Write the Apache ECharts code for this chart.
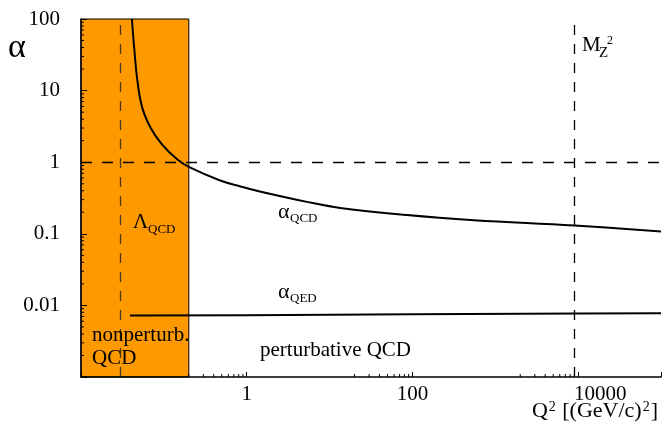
<!DOCTYPE html>
<html>
<head>
<meta charset="utf-8">
<script src="https://cdn.jsdelivr.net/npm/echarts@6/dist/echarts.min.js"></script>
<style>html,body{margin:0;padding:0;background:#fff}#c{width:664px;height:430px}</style>
</head>
<body>
<div id="c"></div>
<script>
// ---- data ----
const qcdQ2    = [0.0412, 0.0439, 0.0481, 0.0553, 0.070, 0.0966, 0.147, 0.2, 0.47, 0.823, 1.44, 5.34, 13.4, 86, 553, 8950, 100000];
const qcdAlpha = [100, 39, 13.3, 5.6, 2.96, 1.73, 1.08, 0.86, 0.56, 0.461, 0.39, 0.279, 0.23, 0.1825, 0.155, 0.1305, 0.108];
const qedQ2    = [0.039, 1, 100, 10000, 100000];
const qedAlpha = [0.0072, 0.0073, 0.0075, 0.0077, 0.0078];
const lambdaQ2 = 0.0314;     // Λ_QCD² dashed line
const mz2      = 8900;       // M_Z² dashed line
const nonpertRange = [0.01, 0.2];
const xTickLabels = ['1', '100', '10000'];
const yTickLabels = ['100', '10', '1', '0.1', '0.01'];
const xMinorTicks = [0.2,0.3,0.4,0.5,0.6,0.7,0.8,0.9, 20,30,40,50,60,70,80,90, 2000,3000,4000,5000,6000,7000,8000,9000];
const yMinorTicks = [0.002,0.003,0.004,0.005,0.006,0.007,0.008,0.009,
                     0.02,0.03,0.04,0.05,0.06,0.07,0.08,0.09,
                     0.2,0.3,0.4,0.5,0.6,0.7,0.8,0.9,
                     2,3,4,5,6,7,8,9, 20,30,40,50,60,70,80,90];

const SERIF = '"Liberation Serif", "Times New Roman", serif';
function pick(list) {
  return function (v) {
    for (const s of list) {
      if (Math.abs(Math.log10(v) - Math.log10(parseFloat(s))) < 1e-6) {
        return s === '10000' ? '{shift|' + s + '}' : s;
      }
    }
    return '';
  };
}

const chart = echarts.init(document.getElementById('c'), null, {renderer: 'canvas'});
const option = {
  animation: false,
  backgroundColor: '#fff',
  grid: {left: 81, right: 2, top: 19, bottom: 53},
  xAxis: {
    type: 'log', logBase: 10, min: 0.01, max: 100000, interval: 2, z: 10,
    axisLine: {lineStyle: {color: '#000', width: 1.5}},
    axisTick: {inside: true, length: 5, lineStyle: {color: '#000', width: 1}},
    axisLabel: {
      formatter: pick(xTickLabels), color: '#000', fontFamily: SERIF, fontSize: 21, margin: 7,
      rich: {shift: {fontFamily: SERIF, fontSize: 21, color: '#000', padding: [0, 0, 0, 44]}}
    },
    splitLine: {show: false}
  },
  yAxis: {
    type: 'log', logBase: 10, min: 0.001, max: 100, interval: 1, z: 10,
    axisLine: {show: true, lineStyle: {color: '#000', width: 1.5}},
    axisTick: {show: true, inside: true, length: 6, lineStyle: {color: '#000', width: 1}},
    axisLabel: {formatter: pick(yTickLabels), color: '#000', fontFamily: SERIF, fontSize: 21, margin: 21},
    splitLine: {show: false}
  },
  series: [
    {
      name: 'alphaQCD', type: 'line', z: 4,
      data: qcdQ2.map((q, i) => [q, qcdAlpha[i]]),
      showSymbol: false, smooth: 0.4,
      lineStyle: {color: '#000', width: 2},
      markArea: {
        silent: true,
        itemStyle: {color: '#FF9900', borderColor: '#000', borderWidth: 1},
        data: [[{xAxis: nonpertRange[0], yAxis: 0.001}, {xAxis: nonpertRange[1], yAxis: 100}]]
      },
      markLine: {
        silent: true, symbol: 'none', label: {show: false},
        data: [
          {xAxis: lambdaQ2, lineStyle: {color: '#4a3a20', width: 1.3, type: [10, 9]}},
          {xAxis: mz2, lineStyle: {color: '#000', width: 1.3, type: [10, 9]}},
          {yAxis: 1, lineStyle: {color: '#000', width: 1.3, type: [11, 10]}}
        ]
      }
    },
    {
      name: 'alphaQED', type: 'line', z: 4,
      data: qedQ2.map((q, i) => [q, qedAlpha[i]]),
      showSymbol: false, smooth: false,
      lineStyle: {color: '#000', width: 2}
    },
    {
      name: 'xMinor', type: 'custom', z: 11, silent: true,
      data: xMinorTicks.map(v => [v, 0.001]),
      renderItem: function (params, api) {
        const p = api.coord([api.value(0), 0.001]);
        return {type: 'line', shape: {x1: p[0], y1: p[1], x2: p[0], y2: p[1] - 3}, style: {stroke: '#000', lineWidth: 1}};
      }
    },
    {
      name: 'yMinor', type: 'custom', z: 11, silent: true,
      data: yMinorTicks.map(v => [0.01, v]),
      renderItem: function (params, api) {
        const p = api.coord([0.01, api.value(1)]);
        return {type: 'line', shape: {x1: p[0], y1: p[1], x2: p[0] + 3, y2: p[1]}, style: {stroke: '#000', lineWidth: 1}};
      }
    }
  ],
  graphic: [
    {type: 'text', z: 20, style: {x: 8, y: 48, text: 'α', font: '34px ' + SERIF, fill: '#000', textVerticalAlign: 'middle'}},
    {type: 'text', z: 20, style: {x: 133, y: 222, text: 'Λ', font: '21px ' + SERIF, fill: '#000', textVerticalAlign: 'middle'}},
    {type: 'text', z: 20, style: {x: 148, y: 230, text: 'QCD', font: '13px ' + SERIF, fill: '#000', textVerticalAlign: 'middle'}},
    {type: 'text', z: 20, style: {x: 278, y: 212, text: 'α', font: '22px ' + SERIF, fill: '#000', textVerticalAlign: 'middle'}},
    {type: 'text', z: 20, style: {x: 290, y: 219, text: 'QCD', font: '13px ' + SERIF, fill: '#000', textVerticalAlign: 'middle'}},
    {type: 'text', z: 20, style: {x: 278, y: 292, text: 'α', font: '22px ' + SERIF, fill: '#000', textVerticalAlign: 'middle'}},
    {type: 'text', z: 20, style: {x: 290, y: 299, text: 'QED', font: '13px ' + SERIF, fill: '#000', textVerticalAlign: 'middle'}},
    {type: 'text', z: 20, style: {x: 582, y: 45.5, text: 'M', font: '21px ' + SERIF, fill: '#000', textVerticalAlign: 'middle'}},
    {type: 'text', z: 20, style: {x: 599, y: 53.5, text: 'Z', font: '15px ' + SERIF, fill: '#000', textVerticalAlign: 'middle'}},
    {type: 'text', z: 20, style: {x: 607, y: 41, text: '2', font: '12px ' + SERIF, fill: '#000', textVerticalAlign: 'middle'}},
    {type: 'text', z: 20, style: {x: 92, y: 335, text: 'nonperturb.', font: '21px ' + SERIF, fill: '#000', textVerticalAlign: 'middle'}},
    {type: 'text', z: 20, style: {x: 92, y: 358.5, text: 'QCD', font: '21px ' + SERIF, fill: '#000', textVerticalAlign: 'middle'}},
    {type: 'text', z: 20, style: {x: 260, y: 350, text: 'perturbative QCD', font: '21px ' + SERIF, fill: '#000', textVerticalAlign: 'middle'}},
    {type: 'text', z: 20, style: {x: 658, y: 411, text: 'Q{s|2} [(GeV/c){s|2}]', font: '22px ' + SERIF, fill: '#000', textAlign: 'right', textVerticalAlign: 'middle',
      rich: {s: {fontSize: 14, fontFamily: SERIF, verticalAlign: 'top', padding: [0, 1, 0, 1]}}}}
  ]
};
chart.setOption(option);
</script>
</body>
</html>
